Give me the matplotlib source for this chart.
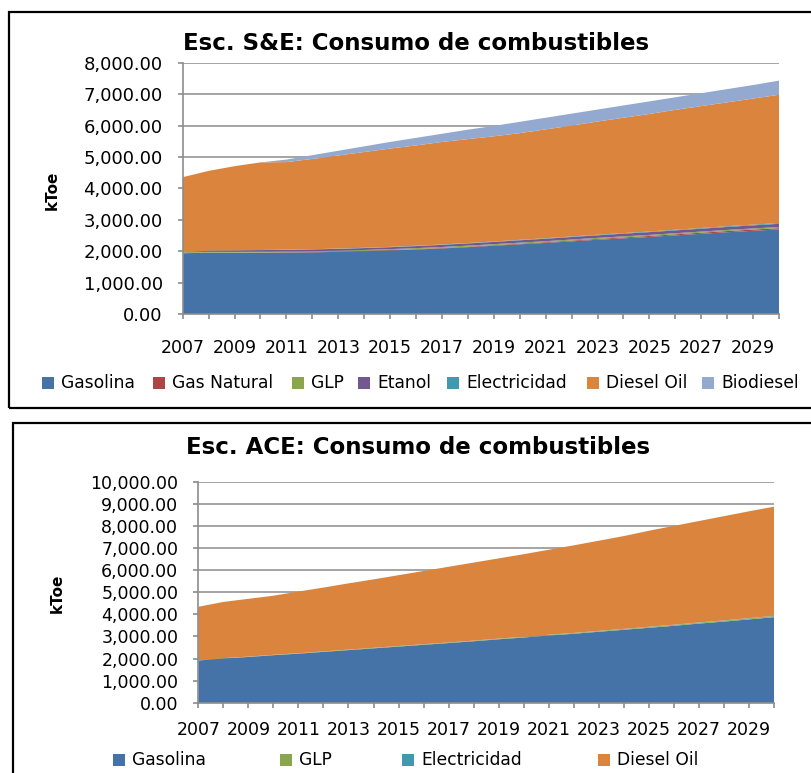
import matplotlib

matplotlib.use("Agg")
import matplotlib.pyplot as plt
from matplotlib.patches import Rectangle
from matplotlib.ticker import FuncFormatter, MultipleLocator


YEARS = [2007, 2008, 2009, 2010, 2011, 2012, 2013, 2014, 2015, 2016, 2017, 2018,
         2019, 2020, 2021, 2022, 2023, 2024, 2025, 2026, 2027, 2028, 2029, 2030]

# Escenario S&E (kToe)
SE_GASOLINA = [1940, 1960, 1955, 1960, 1965, 1970, 1985, 2005, 2030, 2060, 2095, 2135,
               2180, 2225, 2270, 2320, 2370, 2415, 2460, 2510, 2560, 2610, 2655, 2700]
SE_GAS_NATURAL = [5, 6, 7, 8, 9, 10, 11, 12, 13, 14, 15, 17,
                  19, 21, 23, 25, 27, 29, 31, 33, 35, 37, 39, 40]
SE_GLP = [25, 26, 26, 27, 27, 28, 28, 29, 29, 30, 30, 31,
          31, 32, 32, 33, 33, 34, 34, 35, 35, 36, 36, 37]
SE_ETANOL = [0, 30, 40, 45, 50, 55, 58, 60, 62, 65, 68, 70,
             72, 75, 78, 80, 82, 85, 88, 90, 92, 95, 98, 100]
SE_ELECTRICIDAD = [2, 3, 4, 5, 6, 7, 8, 9, 10, 11, 12, 13,
                   14, 15, 16, 17, 18, 19, 20, 21, 22, 23, 24, 25]
SE_DIESEL = [2388, 2535, 2678, 2785, 2783, 2870, 2960, 3045, 3126, 3190, 3260, 3304,
             3344, 3392, 3461, 3525, 3600, 3668, 3737, 3811, 3876, 3939, 4008, 4078]
SE_BIODIESEL = [0, 0, 0, 0, 80, 120, 150, 180, 210, 240, 260, 300,
                330, 360, 370, 380, 380, 390, 400, 400, 410, 420, 430, 450]

# Escenario ACE (kToe)
ACE_GASOLINA = [1910, 2000, 2070, 2150, 2220, 2300, 2380, 2460, 2540, 2620, 2700, 2780,
                2870, 2950, 3040, 3120, 3210, 3300, 3390, 3480, 3580, 3670, 3770, 3870]
ACE_GLP = [10, 11, 12, 13, 14, 15, 16, 17, 18, 19, 20, 21,
           22, 23, 24, 25, 26, 28, 30, 32, 34, 36, 38, 40]
ACE_ELECTRICIDAD = [3, 3, 4, 4, 5, 5, 6, 6, 7, 7, 8, 8,
                    9, 10, 11, 12, 13, 14, 15, 16, 17, 18, 19, 20]
ACE_DIESEL = [2417, 2546, 2614, 2673, 2791, 2890, 2998, 3097, 3205, 3314, 3422, 3531,
              3629, 3737, 3845, 3963, 4081, 4198, 4345, 4472, 4589, 4716, 4833, 4940]

COLORS = {
    "Gasolina": "#4572A7",
    "Gas Natural": "#AA4643",
    "GLP": "#89A54E",
    "Etanol": "#71588F",
    "Electricidad": "#4198AF",
    "Diesel Oil": "#DB843D",
    "Biodiesel": "#93A9CF",
}

W, H = 812, 773
GRID = "#8c8c8c"


def px_box(left, top, right, bottom):
    return [left / W, 1 - bottom / H, (right - left) / W, (bottom - top) / H]


def style_axis(axis, ymax, xpad, ypad, ysize):
    axis.set_xlim(YEARS[0], YEARS[-1])
    axis.set_ylim(0, ymax)
    axis.yaxis.set_major_locator(MultipleLocator(1000))
    axis.yaxis.set_major_formatter(FuncFormatter(lambda v, _: f"{v:,.2f}"))
    axis.set_xticks(YEARS[::2])
    axis.set_xticks(YEARS, minor=True)
    axis.grid(True, axis="y", color=GRID, linewidth=1.1)
    axis.set_axisbelow(True)
    for side in ("top", "right"):
        axis.spines[side].set_visible(False)
    for side in ("left", "bottom"):
        axis.spines[side].set_color(GRID)
        axis.spines[side].set_linewidth(1.2)
    axis.tick_params(axis="both", which="both", color=GRID, length=3.6, width=1.2)
    axis.tick_params(axis="x", which="major", pad=xpad, labelsize=12.5)
    axis.tick_params(axis="y", pad=ypad, labelsize=ysize)


def legend_row(figure, entries, y):
    for x, label in entries:
        figure.add_artist(Rectangle((x / W, 1 - (y + 6) / H), 12 / W, 12 / H,
                                    transform=figure.transFigure,
                                    facecolor=COLORS[label], edgecolor="none"))
        figure.text((x + 19) / W, 1 - y / H, label, fontsize=12.3, va="center", ha="left")


def main():
    figure = plt.figure(figsize=(W / 100, H / 100), dpi=100)
    plt.rcParams["font.family"] = ["DejaVu Sans"]

    # chart frames
    figure.add_artist(Rectangle((9 / W, 1 - 408 / H), 810 / W, 396 / H,
                                transform=figure.transFigure, fill=False,
                                edgecolor="black", linewidth=1.6))
    figure.add_artist(Rectangle((13 / W, -0.05), 810 / W, 1 - 423 / H + 0.05,
                                transform=figure.transFigure, fill=False,
                                edgecolor="black", linewidth=1.6))

    # top chart
    top = figure.add_axes(px_box(182.7, 62.7, 779, 314.3))
    se_labels = ["Gasolina", "Gas Natural", "GLP", "Etanol", "Electricidad", "Diesel Oil", "Biodiesel"]
    top.stackplot(YEARS, SE_GASOLINA, SE_GAS_NATURAL, SE_GLP, SE_ETANOL, SE_ELECTRICIDAD,
                  SE_DIESEL, SE_BIODIESEL, colors=[COLORS[k] for k in se_labels],
                  linewidth=0)
    style_axis(top, 8000, xpad=14.4, ypad=10.8, ysize=13)
    figure.text(416 / W, 1 - 43 / H, "Esc. S&E: Consumo de combustibles",
                fontsize=16.5, fontweight="bold", ha="center", va="center")
    figure.text(52 / W, 1 - 190 / H, "kToe", fontsize=11, fontweight="bold",
                rotation=90, ha="center", va="center")
    legend_row(figure, [(42, "Gasolina"), (153, "Gas Natural"), (292, "GLP"),
                        (358, "Etanol"), (447, "Electricidad"), (587, "Diesel Oil"),
                        (702, "Biodiesel")], 383)

    # bottom chart
    bottom = figure.add_axes(px_box(198.3, 481.7, 774, 702.7))
    ace_labels = ["Gasolina", "GLP", "Electricidad", "Diesel Oil"]
    bottom.stackplot(YEARS, ACE_GASOLINA, ACE_GLP, ACE_ELECTRICIDAD, ACE_DIESEL,
                     colors=[COLORS[k] for k in ace_labels], linewidth=0)
    style_axis(bottom, 10000, xpad=9.5, ypad=10.8, ysize=12.5)
    figure.text(418 / W, 1 - 447 / H, "Esc. ACE: Consumo de combustibles",
                fontsize=16.5, fontweight="bold", ha="center", va="center")
    figure.text(57 / W, 1 - 593 / H, "kToe", fontsize=11, fontweight="bold",
                rotation=90, ha="center", va="center")
    legend_row(figure, [(113, "Gasolina"), (280, "GLP"), (402, "Electricidad"),
                        (598, "Diesel Oil")], 760)

    figure.savefig("out.png", dpi=100)


if __name__ == "__main__":
    main()
